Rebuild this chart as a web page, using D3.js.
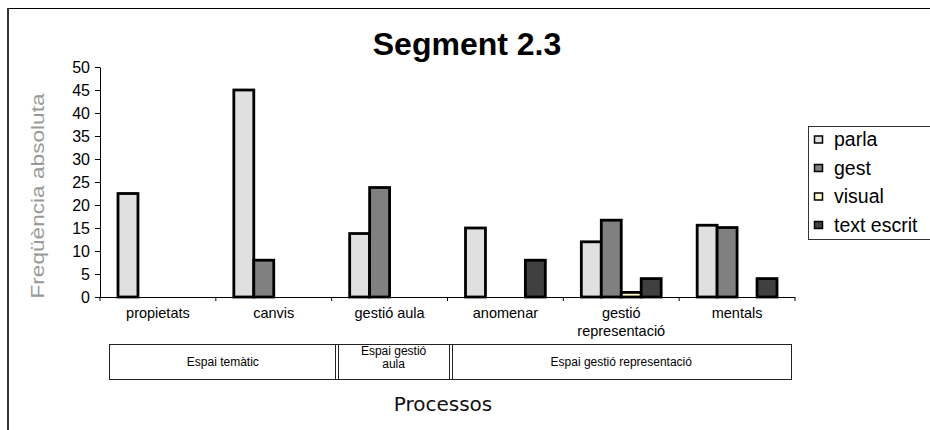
<!DOCTYPE html>
<html>
<head>
<meta charset="utf-8">
<script src="https://cdn.jsdelivr.net/npm/d3@7/dist/d3.min.js"></script>
<style>
  body { margin: 0; background: #fff; }
  svg text { font-family: "Liberation Sans", Arial, sans-serif; }
</style>
</head>
<body>
<div id="chart"></div>
<script>
// data
const categories = ["propietats", "canvis", "gestió aula", "anomenar", "gestió representació", "mentals"];
const categoryLines = [["propietats"], ["canvis"], ["gestió aula"], ["anomenar"], ["gestió", "representació"], ["mentals"]];
const seriesNames = ["parla", "gest", "visual", "text escrit"];
const parla = [22.5, 45, 13.8, 15, 12, 15.6];
const gest = [null, 8, 23.8, null, 16.7, 15.1];
const visual = [null, null, null, null, 1, null];
const textEscrit = [null, null, null, 8, 4, 4];
const yTicks = [0, 5, 10, 15, 20, 25, 30, 35, 40, 45, 50];
const groupNames = [["Espai temàtic"], ["Espai gestió", "aula"], ["Espai gestió representació"]];
const groupSpans = [2, 1, 3];

const seriesValues = [parla, gest, visual, textEscrit];
const colors = ["#e0e0e0", "#808080", "#ffffcc", "#404040"];

const width = 930, height = 430;
const svg = d3.select("#chart").append("svg")
    .attr("width", width)
    .attr("height", height);

// outer frame (only top and left edges visible)
svg.append("line").attr("x1", 7).attr("x2", width).attr("y1", 8.5).attr("y2", 8.5)
    .attr("stroke", "#000").attr("stroke-width", 1);
svg.append("line").attr("x1", 8).attr("x2", 8).attr("y1", 8).attr("y2", height)
    .attr("stroke", "#333").attr("stroke-width", 2);

// title
svg.append("text")
    .attr("x", 467).attr("y", 55)
    .attr("text-anchor", "middle")
    .style("font-weight", "bold")
    .style("font-size", "32px")
    .text("Segment 2.3");

const x0 = d3.scaleBand().domain(categories).range([100, 795]);
const gap = 36;
const x1 = d3.scaleBand().domain(seriesNames).range([gap / 2, x0.bandwidth() - gap / 2]);
const y = d3.scaleLinear().domain([0, 50]).range([297, 67]);

// y axis
const yAxis = svg.append("g")
    .attr("transform", "translate(100,0)")
    .call(d3.axisLeft(y).tickValues(yTicks).tickSize(5).tickSizeOuter(0));
yAxis.select(".domain").attr("stroke", "#000");
yAxis.selectAll("text").style("font-size", "16px").attr("fill", "#000")
    .attr("font-family", "Liberation Sans, Arial, sans-serif").attr("x", -10);

// x axis line + ticks at band edges
const xAxis = svg.append("g");
xAxis.append("line").attr("x1", 100).attr("x2", 795).attr("y1", 297.5).attr("y2", 297.5)
    .attr("stroke", "#000");
xAxis.selectAll(".xt")
    .data(categories.concat(["end"]))
    .enter().append("line")
    .attr("class", "xt")
    .attr("x1", (d, i) => i < categories.length ? x0(d) : x0.range()[1])
    .attr("x2", (d, i) => i < categories.length ? x0(d) : x0.range()[1])
    .attr("y1", 297).attr("y2", 301)
    .attr("stroke", "#000");

// category labels
const catLabels = svg.selectAll(".cat")
    .data(categories)
    .enter().append("text")
    .attr("class", "cat")
    .attr("text-anchor", "middle")
    .style("font-size", "14.5px")
    .attr("y", 318);
catLabels.selectAll("tspan")
    .data((d, i) => categoryLines[i].map(l => ({ l: l, c: d })))
    .enter().append("tspan")
    .attr("x", d => x0(d.c) + x0.bandwidth() / 2)
    .attr("dy", (d, i) => i === 0 ? 0 : 18)
    .text(d => d.l);

// bars
seriesNames.forEach(function (s, si) {
    const vals = seriesValues[si];
    svg.selectAll(".bar-" + si)
        .data(categories.map((c, i) => ({ c: c, v: vals[i] })).filter(d => d.v !== null))
        .enter().append("rect")
        .attr("class", "bar-" + si)
        .attr("x", d => x0(d.c) + x1(s))
        .attr("width", x1.bandwidth())
        .attr("y", d => y(d.v))
        .attr("height", d => y(0) - y(d.v))
        .attr("fill", colors[si])
        .attr("stroke", "#000")
        .attr("stroke-width", 2.8);
});

// y axis title
svg.append("text")
    .attr("transform", "translate(44,196) rotate(-90)")
    .attr("text-anchor", "middle")
    .attr("textLength", 205)
    .attr("lengthAdjust", "spacingAndGlyphs")
    .attr("fill", "#999")
    .style("font-size", "18px")
    .text("Freqüència absoluta");

// legend
const legend = svg.append("g");
legend.append("rect")
    .attr("x", 808.5).attr("y", 126.5).attr("width", 140).attr("height", 113)
    .attr("fill", "#fff").attr("stroke", "#333");
const li = legend.selectAll(".legend")
    .data(seriesNames)
    .enter().append("g")
    .attr("class", "legend")
    .attr("transform", (d, i) => "translate(814," + (139 + i * 28.5) + ")");
li.append("rect")
    .attr("x", 0.5).attr("y", -3).attr("width", 8).attr("height", 7)
    .attr("fill", (d, i) => colors[i])
    .attr("stroke", "#000").attr("stroke-width", 1.5);
li.append("text")
    .attr("x", 20).attr("y", 7)
    .style("font-size", "19.5px")
    .text(d => d);

// group table below the axis
const gx = d3.scaleLinear().domain([0, d3.sum(groupSpans)]).range([109, 792]);
const edges = [0];
groupSpans.forEach(s => edges.push(edges[edges.length - 1] + s));
const table = svg.append("g");
table.append("rect")
    .attr("x", 109.5).attr("y", 344.5).attr("width", 682).attr("height", 35)
    .attr("fill", "#fff").attr("stroke", "#222");
edges.slice(1, -1).forEach(function (e) {
    [-1.5, 1.5].forEach(function (o) {
        table.append("line")
            .attr("x1", Math.round(gx(e)) + o).attr("x2", Math.round(gx(e)) + o)
            .attr("y1", 344.5).attr("y2", 379.5)
            .attr("stroke", "#222");
    });
});
const gl = table.selectAll(".grp")
    .data(groupNames)
    .enter().append("text")
    .attr("class", "grp")
    .attr("text-anchor", "middle")
    .style("font-size", "12px")
    .attr("y", (d) => d.length > 1 ? 355 : 366);
gl.selectAll("tspan")
    .data((d, i) => d.map(l => ({ l: l, i: i })))
    .enter().append("tspan")
    .attr("x", d => (gx(edges[d.i]) + gx(edges[d.i + 1])) / 2)
    .attr("dy", (d, k) => k === 0 ? 0 : 12.5)
    .text(d => d.l);

// x axis title
svg.append("text")
    .attr("x", 443).attr("y", 411)
    .attr("text-anchor", "middle")
    .style("font-family", "DejaVu Sans, sans-serif")
    .style("font-size", "20px")
    .attr("fill", "#111")
    .text("Processos");
</script>
</body>
</html>
